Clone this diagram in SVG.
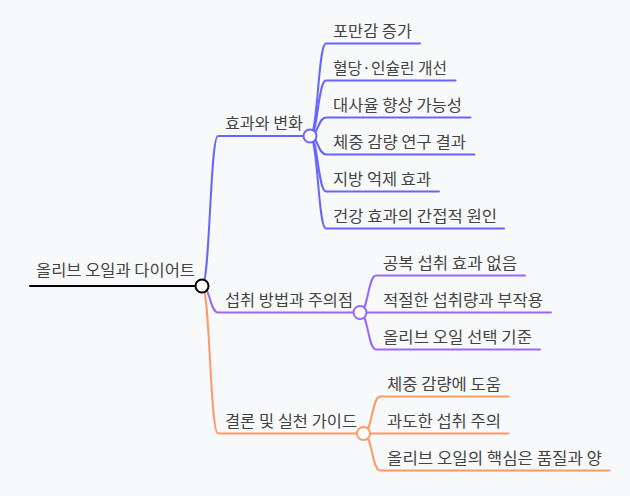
<svg xmlns="http://www.w3.org/2000/svg" width="630" height="496" viewBox="0 0 630 496">
<style>
text{font-family:"Noto Sans CJK KR","Noto Sans",sans-serif;font-size:16px;fill:#444444}
.l{fill:none;stroke-width:2;stroke-linecap:round}
.b1{stroke:#6666ff}.b2{stroke:#9966ff}.b3{stroke:#ff9966}
.c{fill:#ffffff;stroke-width:2}
</style>
<rect width="630" height="496" fill="#f8f9fb"/>
<g id="connectors">
<path class="l" d="M30,286 H202" stroke="#000" stroke-width="3"/>
<path class="l b1" d="M202,286 C210,286 210,136 218,136 H304"/>
<path class="l b2" d="M202,286 C210,286 210,312.5 218,312.5 H354"/>
<path class="l b3" d="M202,286 C210,286 210,433.5 218,433.5 H357"/>
<path class="l b1" d="M310,136 C318,136 318,43.5 326,43.5 H420"/>
<path class="l b1" d="M310,136 C318,136 318,80.5 326,80.5 H455.5"/>
<path class="l b1" d="M310,136 C318,136 318,117.5 326,117.5 H470.5"/>
<path class="l b1" d="M310,136 C318,136 318,154.5 326,154.5 H474.5"/>
<path class="l b1" d="M310,136 C318,136 318,191.5 326,191.5 H439"/>
<path class="l b1" d="M310,136 C318,136 318,228.5 326,228.5 H504"/>
<path class="l b2" d="M360,312.5 C368,312.5 368,275.5 376,275.5 H525"/>
<path class="l b2" d="M360,312.5 H551"/>
<path class="l b2" d="M360,312.5 C368,312.5 368,349.5 376,349.5 H540"/>
<path class="l b3" d="M363.5,433.5 C372,433.5 372,396.5 380,396.5 H508.5"/>
<path class="l b3" d="M363.5,433.5 H508.5"/>
<path class="l b3" d="M363.5,433.5 C372,433.5 372,470.5 380,470.5 H609.5"/>
</g>
<g id="root"><text x="36" y="276" textLength="159" lengthAdjust="spacingAndGlyphs">올리브 오일과 다이어트</text><circle class="c" cx="202" cy="286" r="6.5" stroke="#000"/></g>
<g id="n1"><text x="225" y="129" textLength="78" lengthAdjust="spacingAndGlyphs">효과와 변화</text><circle class="c b1" cx="310" cy="136" r="6.5"/></g>
<g id="n1a"><text x="333" y="37" textLength="79" lengthAdjust="spacingAndGlyphs">포만감 증가</text></g>
<g id="n1b"><text x="333" y="74" textLength="114" lengthAdjust="spacingAndGlyphs">혈당·인슐린 개선</text></g>
<g id="n1c"><text x="333" y="111" textLength="129" lengthAdjust="spacingAndGlyphs">대사율 향상 가능성</text></g>
<g id="n1d"><text x="333" y="148" textLength="133" lengthAdjust="spacingAndGlyphs">체중 감량 연구 결과</text></g>
<g id="n1e"><text x="333" y="185" textLength="98" lengthAdjust="spacingAndGlyphs">지방 억제 효과</text></g>
<g id="n1f"><text x="333" y="222" textLength="164" lengthAdjust="spacingAndGlyphs">건강 효과의 간접적 원인</text></g>
<g id="n2"><text x="225" y="306" textLength="128" lengthAdjust="spacingAndGlyphs">섭취 방법과 주의점</text><circle class="c b2" cx="360" cy="312.5" r="6.5"/></g>
<g id="n2a"><text x="383" y="269" textLength="134" lengthAdjust="spacingAndGlyphs">공복 섭취 효과 없음</text></g>
<g id="n2b"><text x="383" y="306" textLength="160" lengthAdjust="spacingAndGlyphs">적절한 섭취량과 부작용</text></g>
<g id="n2c"><text x="383" y="343" textLength="149" lengthAdjust="spacingAndGlyphs">올리브 오일 선택 기준</text></g>
<g id="n3"><text x="225" y="427" textLength="132" lengthAdjust="spacingAndGlyphs">결론 및 실천 가이드</text><circle class="c b3" cx="363.5" cy="433.5" r="6.5"/></g>
<g id="n3a"><text x="387" y="390" textLength="114" lengthAdjust="spacingAndGlyphs">체중 감량에 도움</text></g>
<g id="n3b"><text x="387" y="427" textLength="114" lengthAdjust="spacingAndGlyphs">과도한 섭취 주의</text></g>
<g id="n3c"><text x="387" y="464" textLength="215" lengthAdjust="spacingAndGlyphs">올리브 오일의 핵심은 품질과 양</text></g>
</svg>
